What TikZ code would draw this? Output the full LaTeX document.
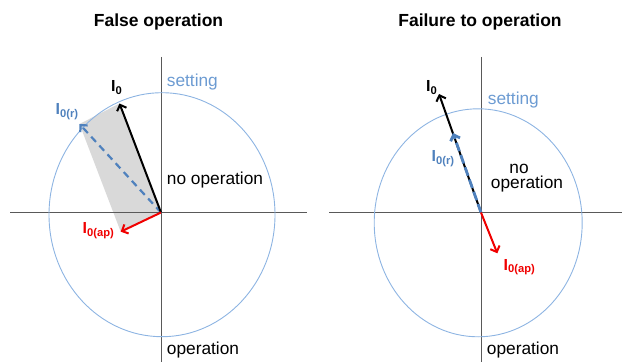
\documentclass[tikz,border=0pt]{standalone}
\usepackage{fontspec}
\setmainfont{Liberation Sans}
\usepackage{tikz}
\usetikzlibrary{arrows.meta}

\definecolor{ringblue}{HTML}{8DB4E2}
\definecolor{setblue}{HTML}{6C9BD2}
\definecolor{refblue}{HTML}{4F81BD}
\definecolor{apred}{HTML}{F00000}

\begin{document}
\begin{tikzpicture}[x=1pt, y=1pt,
  >={Straight Barb[length=5pt, width=10pt]},
  axis/.style={line width=0.9pt, black!65},
  ring/.style={line width=0.9pt, ringblue},
  vec/.style={->, line width=2pt},
  ttl/.style={font=\fontsize{17.5}{20}\selectfont\bfseries, inner sep=0pt, anchor=base},
  txt/.style={font=\fontsize{17.3}{16}\selectfont, inner sep=0pt},
  lbl/.style={font=\fontsize{16}{18}\selectfont\bfseries, inner sep=0pt, anchor=base west}
]
\useasboundingbox (0,0) rectangle (622,362);
% ---------------- false operation ----------------
\node[ttl] (tA) at (158.5,335.3) {False operation};
\coordinate (oA) at (161,149.5);
\coordinate (cA) at (162,147.3);
\coordinate (zA) at (119.5,258.5);
\coordinate (rA) at (79.5,238);
\coordinate (pA) at (120.7,130.3);
\fill[gray!30] (oA) -- (zA) -- (rA) -- (pA) -- cycle;
\draw[axis] (10,149.5) -- (307,149.5);
\draw[axis] (161,305) -- (161,0);
\draw[ring] (cA) ellipse [x radius=113, y radius=122];
\draw[vec, refblue, line width=2.2pt, dashed, dash pattern=on 7pt off 5pt] (oA) -- (rA);
\draw[vec, black] (oA) -- (zA);
\draw[vec, apred] (oA) -- (pA);
\node[lbl] (lzA) at (111,270.3) {I\textsubscript{0}};
\node[lbl, refblue] (lrA) at (55.5,247) {I\textsubscript{0(r)}};
\node[lbl, apred] (lpA) at (82.5,128) {I\textsubscript{0(ap)}};
\node[txt, setblue, anchor=base west] (sA) at (166.7,275.3) {setting};
\node[txt, anchor=base] (nA) at (215,177) {no operation};
\node[txt, anchor=base west] (bA) at (166.7,8) {operation};
% ---------------- failure to operation ----------------
\node[ttl] (tB) at (480,335.3) {Failure to operation};
\coordinate (oB) at (481,149.5);
\coordinate (cB) at (478.2,139.2);
\coordinate (zB) at (439,268);
\coordinate (rB) at (453,229);
\coordinate (pB) at (497.3,108.7);
\draw[axis] (329,149.5) -- (622,149.5);
\draw[axis] (481,305) -- (481,0);
\draw[ring] (cB) ellipse [x radius=104, y radius=114];
\draw[vec, black] (oB) -- (zB);
\draw[vec, refblue, line width=2.8pt, dashed, dash pattern=on 9pt off 4pt] (oB) -- (rB);
\draw[vec, apred] (oB) -- (pB);
\node[lbl] (lzB) at (426,270.3) {I\textsubscript{0}};
\node[lbl, refblue] (lrB) at (431.5,200.3) {I\textsubscript{0(r)}};
\node[lbl, apred] (lpB) at (503.5,92) {I\textsubscript{0(ap)}};
\node[txt, setblue, anchor=base west] (sB) at (487.7,257) {setting};
\node[txt, anchor=base] (nB1) at (519,188.7) {no};
\node[txt, anchor=base] (nB2) at (527,173) {operation};
\node[txt, anchor=base west] (bB) at (486.7,8) {operation};
\end{tikzpicture}
\end{document}
